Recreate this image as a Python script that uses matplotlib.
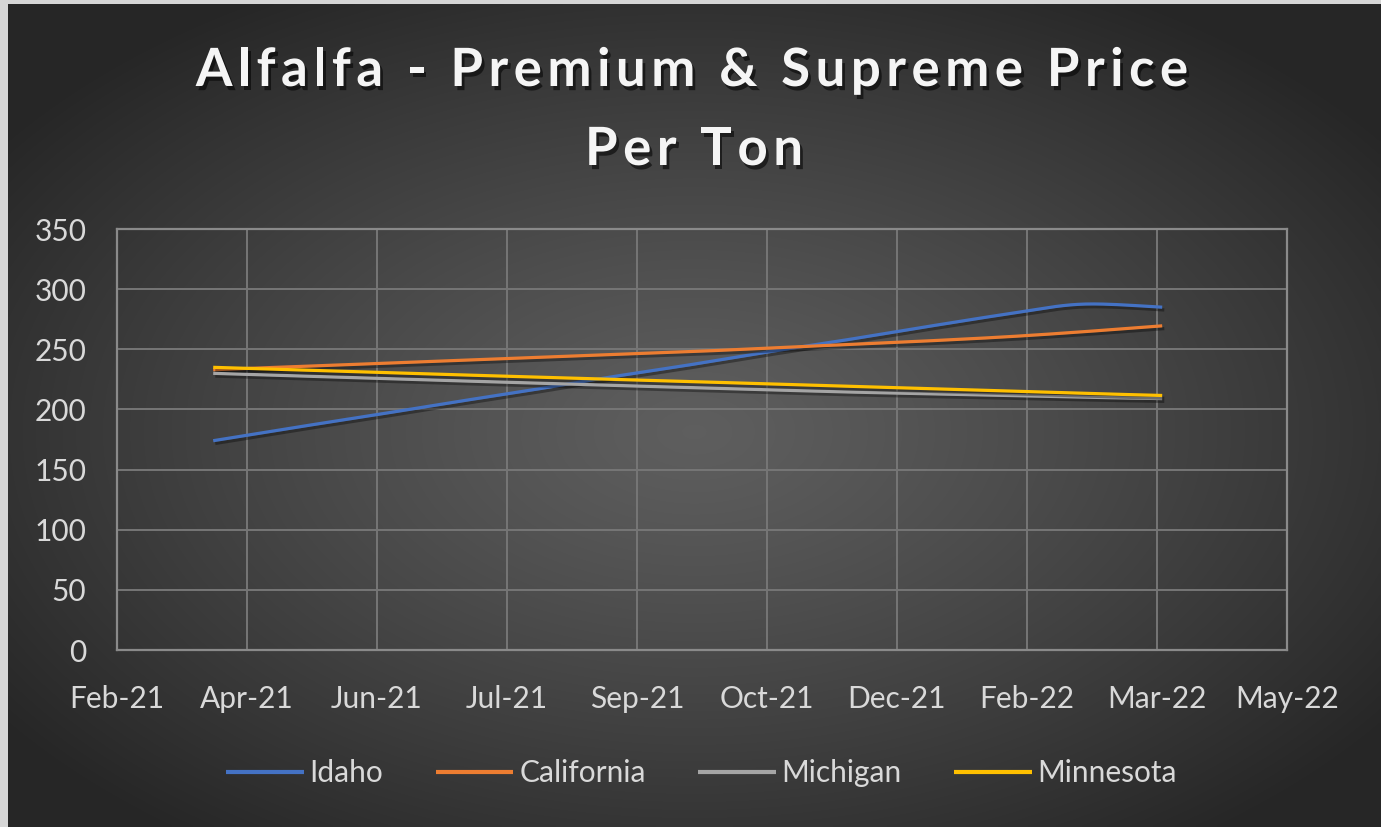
import numpy as np
import matplotlib
matplotlib.use("Agg")
import matplotlib.pyplot as plt
import matplotlib.dates as mdates
import matplotlib.patheffects as pe
from matplotlib.font_manager import FontProperties, findfont, get_font
from datetime import datetime, timedelta

plt.rcParams['font.family'] = ['Lato', 'DejaVu Sans']

# monthly price per ton
months = ['2021-04-01', '2021-05-01', '2021-06-01', '2021-07-01', '2021-08-01',
          '2021-09-01', '2021-10-01', '2021-11-01', '2021-12-01', '2022-01-01',
          '2022-02-01', '2022-03-01', '2022-04-01']
idaho = [174, 184.5, 195, 205.5, 216, 227, 237, 248, 258, 269, 279.5, 287.5, 285]
california = [233, 235.5, 238, 240.5, 243, 245.5, 248, 251, 254, 257, 260.5, 264.5, 269.5]
michigan = [230, 228, 226, 224, 222, 220, 218.2, 216.3, 214.5, 213, 211.5, 210.2, 209]
minnesota = [235, 233, 231, 229, 227, 225, 223.2, 221.2, 219.2, 217.2, 215.2, 213.4, 211.6]

series = [('Idaho', idaho, '#4472C4'),
          ('California', california, '#ED7D31'),
          ('Michigan', michigan, '#A5A5A5'),
          ('Minnesota', minnesota, '#FFC000')]

title_line1 = 'Alfalfa - Premium & Supreme Price'
title_line2 = 'Per Ton'

# axis set-up (Excel style date axis: start 23 Feb 2021, 50 day major unit)
x_start = datetime(2021, 2, 23)
x_step = 50
n_ticks = 10
y_ticks = [0, 50, 100, 150, 200, 250, 300, 350]

W, H = 1381, 827
DPI = 100
txt_col = '#d9d9d9'


def smooth(x, y, n=20):
    # Bezier smoothing like Excel "smoothed line"
    x = np.asarray(x, float)
    y = np.asarray(y, float)
    px = np.concatenate([[x[0]], x, [x[-1]]])
    py = np.concatenate([[y[0]], y, [y[-1]]])
    xs, ys = [], []
    t = np.linspace(0, 1, n, endpoint=False)
    for i in range(1, len(px) - 2):
        p0, p1, p2, p3 = (np.array([px[j], py[j]]) for j in (i - 1, i, i + 1, i + 2))
        b1 = p1 + (p2 - p0) / 6
        b2 = p2 - (p3 - p1) / 6
        for tt in t:
            pt = ((1 - tt) ** 3) * p1 + 3 * ((1 - tt) ** 2) * tt * b1 + 3 * (1 - tt) * tt ** 2 * b2 + tt ** 3 * p2
            xs.append(pt[0])
            ys.append(pt[1])
    xs.append(x[-1])
    ys.append(y[-1])
    return np.array(xs), np.array(ys)


def spaced_text(fig, s, xc_px, base_px, size, spacing_px, **kw):
    # Excel title uses expanded character spacing, draw char by char
    fp = FontProperties(family=plt.rcParams['font.family'], weight='bold', size=size)
    font = get_font(findfont(fp))
    font.set_size(size, DPI)
    adv = []
    for c in s:
        g = font.load_char(ord(c))
        adv.append(g.linearHoriAdvance / 65536)
    total = sum(adv) + spacing_px * (len(s) - 1)
    x = xc_px - total / 2
    for c, a in zip(s, adv):
        if c != ' ':
            fig.text(x / W, 1 - base_px / H, c, ha='left', va='baseline',
                     fontproperties=fp, **kw)
        x += a + spacing_px


fig = plt.figure(figsize=(W / DPI, H / DPI), dpi=DPI)
fig.patch.set_facecolor('#d6d6d6')

# radial gradient background, shifted a few px like the screenshot
bg = fig.add_axes([8 / W, 0, 1 - 8 / W, 1 - 4 / H])
bg.set_axis_off()
gx, gy = np.meshgrid(np.linspace(0, 1, 400), np.linspace(0, 1, 240))
r = np.sqrt(((gx - 0.5) / 0.62) ** 2 + ((gy - 0.52) / 0.62) ** 2)
val = 0.37 - (0.37 - 0.15) * np.clip(r, 0, 1) ** 1.2
bg.imshow(np.dstack([val, val, val]), aspect='auto', extent=[0, 1, 0, 1],
          origin='upper', interpolation='bilinear')
bg.set_xlim(0, 1)
bg.set_ylim(0, 1)

ax = fig.add_axes([117 / W, 1 - 650 / H, (1287 - 117) / W, (650 - 229) / H])
ax.set_facecolor('none')

x_dates = [datetime.strptime(m, '%Y-%m-%d') for m in months]
x_num = mdates.date2num(x_dates)

for name, vals, col in series:
    sx, sy = smooth(x_num, vals)
    ax.plot(sx, sy, color=col, lw=2.3, label=name, solid_capstyle='butt',
            path_effects=[pe.SimpleLineShadow(offset=(1.5, -2), shadow_color='black', alpha=0.35),
                          pe.Normal()])

ticks = [mdates.date2num(x_start + timedelta(days=x_step * k)) for k in range(n_ticks)]
ax.set_xlim(ticks[0], ticks[-1])
ax.set_xticks(ticks)
ax.xaxis.set_major_formatter(mdates.DateFormatter('%b-%y'))
ax.set_ylim(0, 350)
ax.set_yticks(y_ticks)

ax.grid(True, color='#767676', lw=1.4)
ax.set_axisbelow(True)
for s in ax.spines.values():
    s.set_color('#8a8a8a')
    s.set_linewidth(1.6)
ax.tick_params(length=0, labelsize=21.5, labelcolor=txt_col)
ax.tick_params(axis='x', pad=25)
ax.tick_params(axis='y', pad=22)

shadow = [pe.withSimplePatchShadow(offset=(2, -3), shadow_rgbFace='black', alpha=0.55)]
spaced_text(fig, title_line1, 692, 86, 38, 5.5, color='#f5f5f5', path_effects=shadow)
spaced_text(fig, title_line2, 694, 165, 38, 5.5, color='#f5f5f5', path_effects=shadow)

leg = fig.legend(loc='center', bbox_to_anchor=(0.508, 1 - 773 / H), ncol=4, frameon=False,
                 fontsize=21.5, handlelength=2.6, handletextpad=0.2, columnspacing=1.75)
for t in leg.get_texts():
    t.set_color(txt_col)
for h in leg.legend_handles:
    h.set_linewidth(3)
    h.set_path_effects([])

fig.savefig('out.png', dpi=DPI)
